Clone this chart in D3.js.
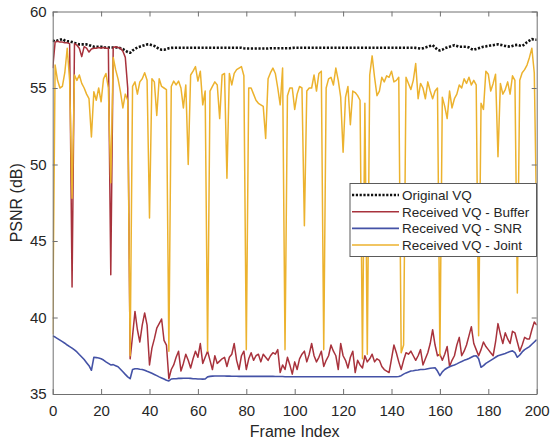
<!DOCTYPE html>
<html>
<head>
<meta charset="utf-8">
<script src="https://cdn.jsdelivr.net/npm/d3@7"></script>
<style>
  html, body { margin: 0; padding: 0; background: #ffffff; }
  svg { display: block; }
  text { font-family: "Liberation Sans", Arial, Helvetica, sans-serif; fill: #262626; }
</style>
</head>
<body>
<svg id="chart" width="555" height="444"></svg>
<script>
// PSNR per frame for the four transmission schemes (frames 0..200)
const frameCount = 201;
const xTicks = [0, 20, 40, 60, 80, 100, 120, 140, 160, 180, 200];
const yTicks = [35, 40, 45, 50, 55, 60];
const seriesNames = ["Original VQ", "Received VQ - Buffer", "Received VQ - SNR", "Received VQ - Joint"];

const originalVQ = [
  58.1, 58.05, 58.1, 58.15, 58.2, 58.1, 58.05, 58.05, 58.0, 57.95,
  57.9, 57.85, 57.85, 57.85, 57.85, 57.8, 57.75, 57.7, 57.7, 57.7,
  57.7, 57.65, 57.65, 57.65, 57.65, 57.65, 57.65, 57.65, 57.6, 57.55,
  57.45, 57.35, 57.3, 57.45, 57.55, 57.65, 57.7, 57.75, 57.8, 57.85,
  57.85, 57.8, 57.75, 57.65, 57.55, 57.5, 57.5, 57.55, 57.6, 57.62,
  57.63, 57.63, 57.63, 57.63, 57.63, 57.63, 57.63, 57.63, 57.63, 57.63,
  57.63, 57.63, 57.63, 57.63, 57.63, 57.63, 57.63, 57.63, 57.63, 57.63,
  57.63, 57.63, 57.63, 57.63, 57.63, 57.63, 57.63, 57.63, 57.63, 57.6,
  57.58, 57.58, 57.58, 57.58, 57.58, 57.58, 57.58, 57.58, 57.58, 57.58,
  57.6, 57.6, 57.6, 57.6, 57.6, 57.6, 57.6, 57.6, 57.6, 57.62,
  57.63, 57.63, 57.63, 57.63, 57.63, 57.63, 57.63, 57.63, 57.63, 57.63,
  57.63, 57.63, 57.63, 57.63, 57.63, 57.63, 57.63, 57.63, 57.63, 57.63,
  57.63, 57.63, 57.63, 57.63, 57.63, 57.63, 57.63, 57.63, 57.63, 57.63,
  57.63, 57.63, 57.63, 57.63, 57.63, 57.63, 57.63, 57.63, 57.63, 57.63,
  57.63, 57.63, 57.63, 57.63, 57.63, 57.63, 57.63, 57.63, 57.63, 57.63,
  57.62, 57.6, 57.58, 57.6, 57.65, 57.7, 57.75, 57.8, 57.65, 57.5,
  57.45, 57.5, 57.6, 57.65, 57.7, 57.75, 57.8, 57.75, 57.7, 57.7,
  57.7, 57.7, 57.65, 57.55, 57.5, 57.55, 57.6, 57.65, 57.7, 57.72,
  57.75, 57.78, 57.8, 57.83, 57.85, 57.82, 57.78, 57.75, 57.72, 57.7,
  57.75, 57.8, 57.82, 57.78, 57.75, 57.85, 58.0, 58.1, 58.2, 58.15,
  58.15
];

const receivedBuffer = [
  56.3, 58.0, 58.05, 58.0, 58.0, 57.95, 57.95, 57.9, 42.0, 57.9,
  57.8, 57.6, 57.05, 57.7, 57.6, 57.35, 57.55, 57.6, 57.6, 57.65,
  57.6, 57.65, 57.6, 57.6, 42.8, 57.65, 57.7, 57.65, 57.6, 57.4,
  57.0, 55.0, 37.3, 38.8, 40.4, 39.2, 38.4, 39.5, 40.3, 39.5,
  36.9, 38.0, 38.6, 39.3, 39.6, 39.9, 38.5, 38.2, 36.0, 36.6,
  36.9, 37.4, 37.8, 36.5, 37.0, 37.6, 37.2, 36.7, 37.3, 37.8,
  37.4, 38.3, 37.0, 37.4, 37.8, 37.2, 36.6, 37.5, 37.0, 37.15,
  37.3, 37.4, 36.8, 37.4, 37.6, 38.3, 37.2, 36.6, 37.5, 37.8,
  36.6, 37.3, 37.7, 37.2, 37.5, 37.6, 37.1, 37.6, 37.4, 37.2,
  37.5, 37.7, 37.6, 37.9, 36.4, 36.9, 36.6, 37.4, 36.9, 36.3,
  37.1, 36.6, 37.3, 37.6, 37.8, 37.1, 37.6, 38.3, 37.5, 37.1,
  37.4, 37.8, 36.8, 37.2, 37.5, 38.2, 37.8, 37.5, 36.6, 38.3,
  37.5, 37.2, 36.7, 37.4, 37.8, 36.4, 37.2, 36.9, 36.7, 37.5,
  37.1, 37.3, 37.6, 37.1, 37.3, 37.2, 36.8, 36.6, 36.5, 36.4,
  37.3, 38.2, 37.7, 37.1, 36.6, 37.2, 37.7, 37.6, 37.8, 37.5,
  37.2, 37.5, 37.9, 36.9, 37.3, 37.7, 38.3, 39.2, 38.2, 37.5,
  37.6, 37.2, 37.6, 38.1, 36.8, 37.2, 37.5, 38.2, 38.7, 37.5,
  37.8, 38.2, 38.8, 39.4, 38.3, 37.9, 37.5, 37.9, 38.4, 38.1,
  37.9, 37.7, 37.5, 38.4, 39.6, 38.9, 38.3, 39.0, 38.6, 38.3,
  39.1, 39.0, 38.4, 37.8, 38.2, 38.7, 38.6, 38.6, 39.2, 39.7,
  39.5
];

const receivedSNR = [
  38.8, 38.72, 38.62, 38.52, 38.42, 38.32, 38.2, 38.1, 38.0, 37.88,
  37.75, 37.58, 37.42, 37.25, 37.05, 36.85, 36.55, 37.4, 37.38, 37.35,
  37.3, 37.22, 37.1, 37.0, 36.9, 36.92, 36.85, 36.78, 36.62, 36.45,
  36.28, 36.12, 36.0, 36.6, 36.65, 36.65, 36.62, 36.6, 36.55, 36.48,
  36.42, 36.35, 36.28, 36.2, 36.12, 36.05, 35.98, 35.9, 35.85, 35.98,
  36.0, 36.0, 36.02, 36.02, 36.03, 36.03, 36.03, 36.02, 36.0, 36.0,
  35.98, 35.98, 35.97, 35.98, 36.12, 36.15, 36.17, 36.18, 36.18, 36.18,
  36.18, 36.18, 36.17, 36.17, 36.16, 36.16, 36.16, 36.15, 36.15, 36.15,
  36.15, 36.15, 36.15, 36.15, 36.15, 36.15, 36.15, 36.15, 36.15, 36.15,
  36.15, 36.15, 36.14, 36.14, 36.14, 36.14, 36.13, 36.13, 36.13, 36.13,
  36.13, 36.13, 36.13, 36.13, 36.13, 36.13, 36.13, 36.13, 36.13, 36.13,
  36.13, 36.13, 36.13, 36.13, 36.13, 36.13, 36.13, 36.13, 36.13, 36.13,
  36.13, 36.13, 36.13, 36.13, 36.13, 36.13, 36.13, 36.13, 36.13, 36.13,
  36.13, 36.13, 36.13, 36.13, 36.13, 36.13, 36.13, 36.13, 36.13, 36.13,
  36.13, 36.13, 36.13, 36.14, 36.2, 36.3, 36.38, 36.44, 36.5, 36.52,
  36.55, 36.57, 36.6, 36.6, 36.62, 36.65, 36.68, 36.7, 36.72, 36.5,
  36.2, 36.45, 36.6, 36.7, 36.78, 36.85, 36.9, 36.97, 37.05, 37.12,
  37.2, 37.25, 37.32, 37.4, 37.48, 37.5, 37.3, 36.75, 36.85, 37.0,
  37.1, 37.2, 37.3, 37.4, 37.5, 37.55, 37.6, 37.65, 37.72, 37.78,
  37.82, 37.7, 37.4, 37.55, 37.75, 37.9, 38.0, 38.1, 38.25, 38.4,
  38.55
];

const receivedJoint = [
  38.9, 56.5, 55.5, 55.0, 55.1, 56.0, 57.6, 55.5, 47.8, 55.85,
  55.5, 55.85, 55.3, 55.0, 54.6, 54.3, 51.8, 54.75, 54.2, 55.0,
  54.1, 55.6, 55.95, 55.0, 48.8, 57.0, 56.2, 55.6, 54.75, 53.7,
  54.6, 54.2, 37.5, 55.1, 55.4, 54.6, 55.4, 55.6, 56.0, 55.5,
  46.5, 55.6, 55.4, 53.2, 55.6, 55.1, 55.0, 54.9, 37.8, 55.1,
  55.45, 55.2, 55.45, 55.0, 53.7, 55.2, 50.0, 55.85, 56.1, 56.4,
  55.45, 56.1, 53.9, 54.8, 37.8, 54.8, 55.1, 55.4, 55.2, 53.0,
  55.85, 55.95, 49.1, 55.95, 55.2, 55.95, 56.2, 56.3, 56.4, 55.8,
  37.9, 55.0, 55.0, 54.6, 54.2, 54.0, 53.9, 53.8, 51.7, 55.6,
  56.0, 56.3, 55.95, 55.0, 53.9, 56.3, 37.9, 54.5, 55.0, 55.0,
  53.6, 54.6, 55.1, 55.0, 46.0, 54.8, 55.0, 55.0, 55.85, 54.8,
  55.95, 56.1, 37.9, 55.0, 55.6, 55.7, 55.2, 56.3, 55.5, 54.4,
  50.8, 54.4, 55.1, 52.6, 54.8, 54.7, 54.5, 54.2, 37.3, 54.0,
  37.6, 55.85, 57.1, 55.7, 54.5, 54.8, 55.7, 55.4, 55.8, 55.7,
  56.1, 55.4, 55.5, 55.7, 37.7, 38.2, 55.7, 55.3, 54.9, 55.5,
  56.6, 54.3, 55.3, 55.0, 54.3, 55.4, 54.8, 54.3, 54.8, 55.0,
  37.5, 54.4, 53.8, 53.0, 54.8, 53.7, 54.3, 54.6, 55.2, 55.0,
  55.6, 55.3, 55.7, 55.2, 55.5, 55.2, 38.8, 54.0, 53.6, 56.1,
  55.9, 54.8, 55.3, 55.9, 50.5, 55.3, 54.6, 54.9, 55.4, 54.6,
  55.8, 55.5, 41.6, 55.5, 56.0, 56.2, 56.5, 57.0, 57.6, 56.0,
  46.0
];

const frames = d3.range(frameCount);

const svg = d3.select("#chart");
const plot = { left: 52.7, right: 536.7, top: 11.5, bottom: 394 };

const x = d3.scaleLinear().domain([0, 200]).range([plot.left, plot.right]);
const y = d3.scaleLinear().domain([35, 60]).range([plot.bottom, plot.top]);

const axisColor = "#707070";
const tickFont = "15px";

// clip the traces to the axes box
svg.append("defs").append("clipPath").attr("id", "plotClip")
  .append("rect")
  .attr("x", plot.left).attr("y", plot.top)
  .attr("width", plot.right - plot.left)
  .attr("height", plot.bottom - plot.top);

const series = [
  { name: seriesNames[0], values: originalVQ,     color: "#111111", width: 2.6, dash: "2.2,1.6" },
  { name: seriesNames[1], values: receivedBuffer, color: "#a8323c", width: 1.5, dash: null },
  { name: seriesNames[2], values: receivedSNR,    color: "#4452a6", width: 1.6, dash: null },
  { name: seriesNames[3], values: receivedJoint,  color: "#ecb22e", width: 1.5, dash: null }
];

const line = d3.line()
  .x((d, i) => x(frames[i]))
  .y(d => y(d));

const traces = svg.append("g").attr("clip-path", "url(#plotClip)");
series.forEach(s => {
  traces.append("path")
    .datum(s.values)
    .attr("fill", "none")
    .attr("stroke", s.color)
    .attr("stroke-width", s.width)
    .attr("stroke-linejoin", "round")
    .attr("stroke-dasharray", s.dash)
    .attr("d", line);
});

// axes with inward ticks on all four sides
function styleAxis(g) {
  g.select(".domain").attr("stroke", axisColor).attr("stroke-width", 1);
  g.selectAll(".tick line").attr("stroke", axisColor);
  g.selectAll(".tick text").style("font-size", tickFont).attr("fill", "#262626");
}

svg.append("g")
  .attr("transform", `translate(0,${plot.bottom})`)
  .call(d3.axisBottom(x).tickValues(xTicks).tickSizeInner(-5).tickSizeOuter(0).tickPadding(11))
  .call(styleAxis);

svg.append("g")
  .attr("transform", `translate(0,${plot.top})`)
  .call(d3.axisTop(x).tickValues(xTicks).tickSizeInner(-5).tickSizeOuter(0).tickFormat(""))
  .call(styleAxis);

svg.append("g")
  .attr("transform", `translate(${plot.left},0)`)
  .call(d3.axisLeft(y).tickValues(yTicks).tickSizeInner(-5).tickSizeOuter(0).tickPadding(6))
  .call(styleAxis);

svg.append("g")
  .attr("transform", `translate(${plot.right},0)`)
  .call(d3.axisRight(y).tickValues(yTicks).tickSizeInner(-5).tickSizeOuter(0).tickFormat(""))
  .call(styleAxis);

// axis titles
svg.append("text")
  .attr("x", (plot.left + plot.right) / 2)
  .attr("y", 437)
  .attr("text-anchor", "middle")
  .style("font-size", "16px")
  .text("Frame Index");

svg.append("text")
  .attr("transform", `translate(22,${(plot.top + plot.bottom) / 2}) rotate(-90)`)
  .attr("text-anchor", "middle")
  .style("font-size", "16px")
  .text("PSNR (dB)");

// legend
const legend = svg.append("g").attr("transform", "translate(350,183.5)");
legend.append("rect")
  .attr("x", 0).attr("y", 0)
  .attr("width", 186.5).attr("height", 73)
  .attr("fill", "#ffffff")
  .attr("stroke", "#5a5a5a")
  .attr("stroke-width", 1);

series.forEach((s, i) => {
  const cy = 11.5 + i * 16.7;
  legend.append("line")
    .attr("x1", 2).attr("x2", 49)
    .attr("y1", cy).attr("y2", cy)
    .attr("stroke", s.color)
    .attr("stroke-width", s.width)
    .attr("stroke-dasharray", s.dash);
  legend.append("text")
    .attr("x", 52)
    .attr("y", cy)
    .attr("dy", "0.36em")
    .style("font-size", "13.5px")
    .text(s.name);
});
</script>
</body>
</html>
